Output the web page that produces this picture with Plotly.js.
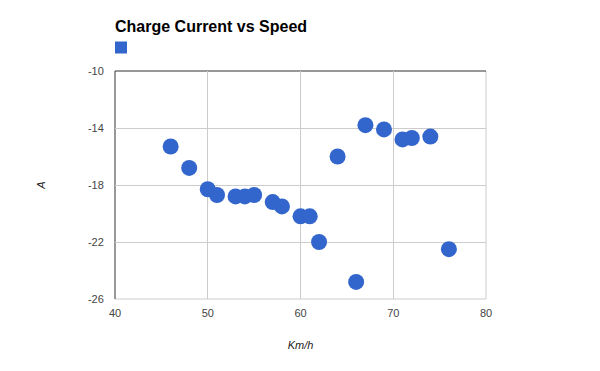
<!DOCTYPE html>
<html>
<head>
<meta charset="utf-8">
<script src="https://cdn.plot.ly/plotly-3.0.1.min.js"></script>
<style>html,body{margin:0;padding:0;background:#fff;}#chart{width:600px;height:371px;}</style>
</head>
<body>
<div id="chart"></div>
<script>
var speed = [46, 48, 50, 51, 53, 54, 55, 57, 58, 60, 61, 62, 64, 66, 67, 69, 71, 72, 74, 76];
var current = [-15.3, -16.8, -18.3, -18.7, -18.8, -18.8, -18.7, -19.2, -19.5, -20.2, -20.2, -22.0, -16.0, -24.8, -13.8, -14.1, -14.8, -14.7, -14.6, -22.5];
var xTicks = [40, 50, 60, 70, 80];
var yTicks = [-10, -14, -18, -22, -26];
var seriesColor = '#3366cc';

var traces = [
  {
    x: speed, y: current, type: 'scatter', mode: 'markers',
    marker: {color: seriesColor, size: 16},
    showlegend: false, hoverinfo: 'x+y'
  },
  {
    x: [null], y: [null], type: 'scatter', mode: 'markers', name: ' ',
    marker: {color: seriesColor, size: 12, symbol: 'square'},
    showlegend: true
  }
];

var layout = {
  width: 600, height: 371,
  margin: {l: 115, r: 114, t: 71, b: 72},
  paper_bgcolor: '#fff', plot_bgcolor: '#fff',
  font: {family: 'Arial, "Liberation Sans", sans-serif', size: 11, color: '#444'},
  title: {
    text: 'Charge Current vs Speed',
    font: {family: 'Arial, "Liberation Sans", sans-serif', size: 16, color: '#000', weight: 'bold'},
    x: 115/600, xanchor: 'left', xref: 'container',
    y: 1 - 26/371, yanchor: 'middle', yref: 'container'
  },
  showlegend: true,
  legend: {
    x: -14/371, xanchor: 'left', xref: 'paper',
    y: 1 + 9/228, yanchor: 'bottom', yref: 'paper',
    bgcolor: 'rgba(0,0,0,0)', font: {size: 11}
  },
  xaxis: {
    range: [40, 80], tickvals: xTicks, ticktext: xTicks.map(String),
    showgrid: true, gridcolor: '#cccccc', gridwidth: 1,
    zeroline: false, showline: false,
    ticks: 'outside', ticklen: 4, tickcolor: 'rgba(0,0,0,0)',
    tickfont: {color: '#444', size: 11},
    title: {text: 'Km/h', font: {size: 11, color: '#222', style: 'italic'}, standoff: 23},
    automargin: false
  },
  yaxis: {
    range: [-26, -10], tickvals: yTicks, ticktext: yTicks.map(String),
    showgrid: true, gridcolor: '#cccccc', gridwidth: 1,
    zeroline: false, showline: false,
    ticks: 'outside', ticklen: 8, tickcolor: 'rgba(0,0,0,0)',
    tickfont: {color: '#444', size: 11},
    title: {text: 'A', font: {size: 11, color: '#222', style: 'italic'}, standoff: 40},
    automargin: false
  },
  shapes: [
    {type: 'line', xref: 'paper', yref: 'paper', x0: 0, x1: 1, y0: 0, y1: 0, line: {color: '#cccccc', width: 1}, layer: 'below'},
    {type: 'line', xref: 'paper', yref: 'paper', x0: 1, x1: 1, y0: 0, y1: 1, line: {color: '#cccccc', width: 1}, layer: 'below'},
    {type: 'line', xref: 'paper', yref: 'paper', x0: 0, x1: 1, y0: 1, y1: 1, line: {color: '#333333', width: 1}, layer: 'below'},
    {type: 'line', xref: 'paper', yref: 'paper', x0: 0, x1: 0, y0: 0, y1: 1, line: {color: '#333333', width: 1}, layer: 'below'}
  ]
};

Plotly.newPlot('chart', traces, layout, {displayModeBar: false, staticPlot: true});
</script>
</body>
</html>
